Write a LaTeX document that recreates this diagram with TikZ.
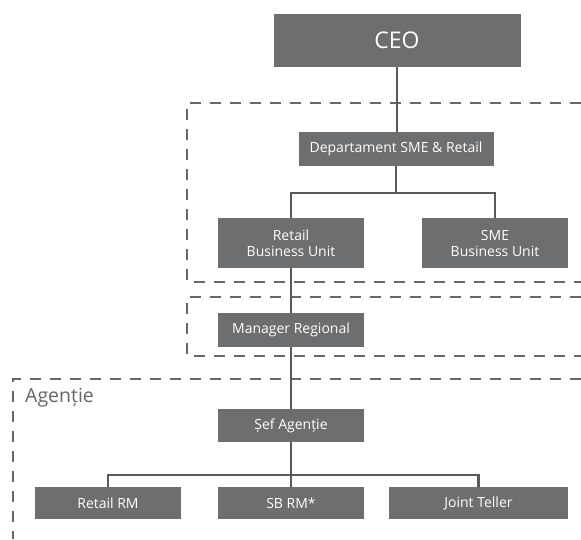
\documentclass[tikz,border=0pt]{standalone}
\usepackage{fontspec}
\setmainfont{Open Sans}
\definecolor{boxgray}{HTML}{6D6E70}
\definecolor{linegray}{HTML}{58595B}
\definecolor{dashgray}{HTML}{66676A}
\tikzset{
  orgbox/.style={rectangle, fill=boxgray, text=white, inner sep=0pt, align=center,
    font=\fontsize{14}{16}\selectfont},
  conn/.style={draw=linegray, line width=2.2pt},
  zone/.style={draw=dashgray, line width=2.6pt, dash pattern=on 11pt off 9pt},
  zonelabel/.style={text=dashgray, anchor=base west, inner sep=0pt, font=\fontsize{19.5}{23}\selectfont}
}
\begin{document}
\begin{tikzpicture}[x=1pt,y=-1pt]
\useasboundingbox (0,0) rectangle (581,539);
% zones
\draw[zone] (581,103) -- (187,103) -- (187,282) -- (581,282);
\draw[zone] (581,297) -- (187,297) -- (187,356) -- (581,356);
\draw[zone] (581,379) -- (13,379) -- (13,539);
\node[zonelabel] (aglabel) at (25,402) {Agenție};
% boxes
\node[orgbox, minimum width=247pt, minimum height=53pt, font=\fontsize{23}{27}\selectfont] (ceo) at (397,40.5) {CEO};
\node[orgbox, minimum width=195pt, minimum height=34pt] (dept) at (396,149) {Departament SME \& Retail};
\node[orgbox, minimum width=146pt, minimum height=50pt] (rbu) at (291,243) {Retail\\Business Unit};
\node[orgbox, minimum width=146pt, minimum height=50pt] (sbu) at (495,243) {SME\\Business Unit};
\node[orgbox, minimum width=146pt, minimum height=34pt] (mreg) at (291,330) {Manager Regional};
\node[orgbox, minimum width=146pt, minimum height=33pt] (sef) at (291,425.5) {Șef Agenție};
\node[orgbox, minimum width=146pt, minimum height=32pt] (rrm) at (108,503) {Retail RM};
\node[orgbox, minimum width=146pt, minimum height=32pt] (sbrm) at (291,503) {SB RM*};
\node[orgbox, minimum width=179pt, minimum height=32pt] (jt) at (478.5,503) {Joint Teller};
% connectors
\coordinate (j1) at (396,193);
\coordinate (j2) at (291,475);
\draw[conn] (ceo.south) -- (ceo.south |- dept.north);
\draw[conn] (dept.south) -- (j1);
\draw[conn] (rbu.north) -- (rbu.north |- j1) -- (sbu.north |- j1) -- (sbu.north);
\draw[conn] (rbu.south) -- (mreg.north);
\draw[conn] (mreg.south) -- (sef.north);
\draw[conn] (sef.south) -- (j2);
\draw[conn] (rrm.north) -- (rrm.north |- j2) -- (jt.north |- j2) -- (jt.north);
\draw[conn] (j2) -- (sbrm.north);
\end{tikzpicture}
\end{document}
